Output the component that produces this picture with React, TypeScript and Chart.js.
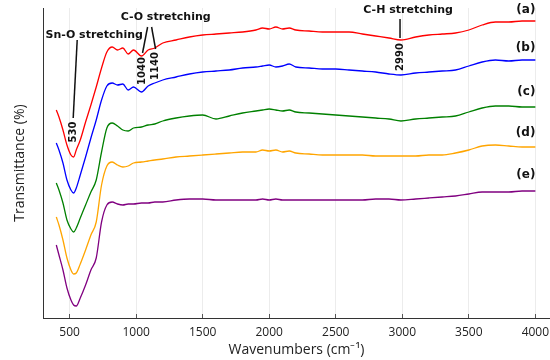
import React, { useEffect, useRef } from "react";
import { Chart, registerables } from "chart.js";

Chart.register(...registerables);

// Wavenumber grid (cm^-1)
const wavenumbers = [
  400, 420, 450, 480, 510, 530, 550, 580, 620, 660, 700, 740, 780, 820, 860, 900, 940, 980, 1040, 1090,
  1140, 1200, 1300, 1400, 1500, 1600, 1700, 1800, 1900, 1950, 2000, 2050, 2100, 2150, 2200, 2300, 2400,
  2500, 2600, 2700, 2800, 2900, 2990, 3100, 3200, 3300, 3400, 3500, 3600, 3700, 3800, 3900, 4000,
];

// Offset transmittance (arbitrary units)
const seriesA = [
  208, 201, 188, 173, 163, 161, 168, 178, 196, 213, 231, 250, 266, 271, 268, 270, 264, 268, 262, 268,
  270, 275, 278, 281, 283, 284, 285, 286, 288, 290, 289, 291, 289, 290, 288, 287, 286,
  286, 286, 284, 282, 280, 278, 281, 283, 284, 285, 288, 293, 296, 296, 297, 297,
];
const seriesB = [
  175, 168, 155, 138, 128, 125, 130, 143, 161, 180, 198, 218, 232, 235, 233, 234, 228, 231, 226, 232,
  235, 238, 241, 244, 246, 247, 248, 250, 251, 252, 253, 251, 252, 254, 251, 250, 249,
  249, 248, 247, 246, 244, 243, 245, 246, 247, 248, 252, 256, 258, 257, 258, 258,
];
const seriesC = [
  135, 128, 115, 98, 89, 86, 90, 100, 113, 126, 138, 166, 190, 195, 192, 188, 187, 190, 191, 193,
  194, 197, 200, 202, 203, 199, 202, 205, 207, 208, 209, 208, 207, 208, 206, 205, 204,
  203, 202, 201, 200, 199, 197, 199, 200, 201, 202, 206, 210, 212, 212, 211, 211,
];
const seriesD = [
  101, 93, 78, 60, 48, 44, 45, 54, 68, 83, 96, 133, 152, 156, 153, 151, 152, 155, 156, 157,
  158, 159, 161, 162, 163, 164, 165, 166, 166, 168, 167, 168, 166, 167, 165, 164, 163,
  163, 163, 163, 162, 162, 162, 162, 163, 163, 165, 168, 172, 173, 172, 171, 171,
];
const seriesE = [
  73, 63, 48, 30, 18, 13, 12, 20, 33, 48, 60, 96, 113, 116, 114, 113, 114, 114, 115, 115,
  116, 116, 118, 119, 119, 118, 118, 118, 118, 119, 118, 119, 118, 118, 118, 118, 118,
  118, 118, 118, 119, 119, 118, 119, 120, 121, 122, 124, 126, 126, 126, 127, 127,
];

const seriesNames = ["(a)", "(b)", "(c)", "(d)", "(e)"];
const seriesColors = ["#ff0000", "#0000ff", "#008000", "#ffa500", "#800080"];
const seriesList = [seriesA, seriesB, seriesC, seriesD, seriesE];
// right-side sample labels: vertical position (data units)
const nameLabelY = [308, 270, 226, 185, 143];

const xTicks = [500, 1000, 1500, 2000, 2500, 3000, 3500, 4000];

// Band annotations: group title, lines (from -> to), rotated peak numbers
const bandTitles = [
  { text: "Sn-O stretching", x: 685, y: 283 },
  { text: "C-O stretching", x: 1222, y: 301 },
  { text: "C-H stretching", x: 3044, y: 308 },
];
const bandLines = [
  { x1: 557, y1: 278, x2: 527, y2: 200 },
  { x1: 1086, y1: 291, x2: 1048, y2: 265 },
  { x1: 1116, y1: 291, x2: 1146, y2: 269 },
  { x1: 2983, y1: 299, x2: 2983, y2: 280 },
];
const peakNumbers = [
  { text: "530", x: 527, y: 186 },
  { text: "1040", x: 1048, y: 247 },
  { text: "1140", x: 1146, y: 252 },
  { text: "2990", x: 2983, y: 261 },
];

const notesPlugin = {
  id: "notes",
  afterDatasetsDraw(chart: any) {
    const { ctx } = chart;
    const xs = chart.scales.x;
    const ys = chart.scales.y;
    ctx.save();
    ctx.fillStyle = "#111";
    ctx.strokeStyle = "#111";
    ctx.lineWidth = 1.5;
    ctx.textAlign = "center";
    ctx.textBaseline = "middle";
    ctx.font = "bold 11px 'DejaVu Sans'";
    bandTitles.forEach((t) => {
      ctx.fillText(t.text, xs.getPixelForValue(t.x), ys.getPixelForValue(t.y));
    });
    bandLines.forEach((l) => {
      ctx.beginPath();
      ctx.moveTo(xs.getPixelForValue(l.x1), ys.getPixelForValue(l.y1));
      ctx.lineTo(xs.getPixelForValue(l.x2), ys.getPixelForValue(l.y2));
      ctx.stroke();
    });
    ctx.font = "bold 10px 'DejaVu Sans'";
    peakNumbers.forEach((p) => {
      ctx.save();
      ctx.translate(xs.getPixelForValue(p.x), ys.getPixelForValue(p.y));
      ctx.rotate(-Math.PI / 2);
      ctx.fillText(p.text, 0, 0);
      ctx.restore();
    });
    ctx.font = "bold 12px 'DejaVu Sans'";
    ctx.textAlign = "right";
    seriesNames.forEach((n, i) => {
      ctx.fillText(n, xs.getPixelForValue(4000), ys.getPixelForValue(nameLabelY[i]));
    });
    ctx.restore();
  },
};

export default function App() {
  const canvasRef = useRef<HTMLCanvasElement | null>(null);

  useEffect(() => {
    if (!canvasRef.current) return;
    const chart = new Chart(canvasRef.current, {
      type: "line",
      data: {
        datasets: seriesList.map((s, i) => ({
          label: seriesNames[i],
          data: s.map((v, j) => ({ x: wavenumbers[j], y: v })),
          borderColor: seriesColors[i],
          backgroundColor: seriesColors[i],
          borderWidth: 1.3,
          pointRadius: 0,
          cubicInterpolationMode: "monotone" as const,
          fill: false,
        })),
      },
      options: {
        animation: false,
        responsive: true,
        maintainAspectRatio: false,
        layout: { padding: { top: 8, right: 0, left: 0, bottom: 0 } },
        plugins: { legend: { display: false }, tooltip: { enabled: false } },
        scales: {
          x: {
            type: "linear",
            min: 300,
            max: 4110,
            afterBuildTicks: (s: any) => {
              s.ticks = xTicks.map((v) => ({ value: v }));
            },
            afterFit: (s: any) => {
              s.height = 42;
              s.paddingRight = 0;
              s.paddingLeft = 0;
            },
            grid: { color: "#ececec", tickColor: "#555", tickLength: -4, lineWidth: 1 },
            border: { color: "#333", width: 1 },
            ticks: {
              font: { family: "'Open Sans'", size: 12 },
              color: "#222",
              padding: 11,
              maxRotation: 0,
              autoSkip: false,
              callback: (v: any) => String(v),
            },
            title: {
              display: true,
              text: "Wavenumbers (cm⁻¹)",
              font: { family: "'Open Sans'", size: 14 },
              color: "#222",
              padding: { top: 0, bottom: 2 },
            },
          },
          y: {
            min: 0,
            max: 310,
            afterFit: (s: any) => {
              s.width = 43;
              s.paddingTop = 0;
              s.paddingBottom = 0;
            },
            ticks: { display: false },
            grid: { display: false },
            border: { color: "#333", width: 1 },
            title: {
              display: true,
              text: "Transmittance (%)",
              font: { family: "'Open Sans'", size: 14 },
              color: "#222",
              padding: { top: 12, bottom: 0 },
            },
          },
        },
      },
      plugins: [notesPlugin],
    });
    return () => chart.destroy();
  }, []);

  return (
    <div style={{ position: "absolute", left: 0, top: 0, width: 550, height: 360, background: "#fff" }}>
      <canvas ref={canvasRef} />
    </div>
  );
}
